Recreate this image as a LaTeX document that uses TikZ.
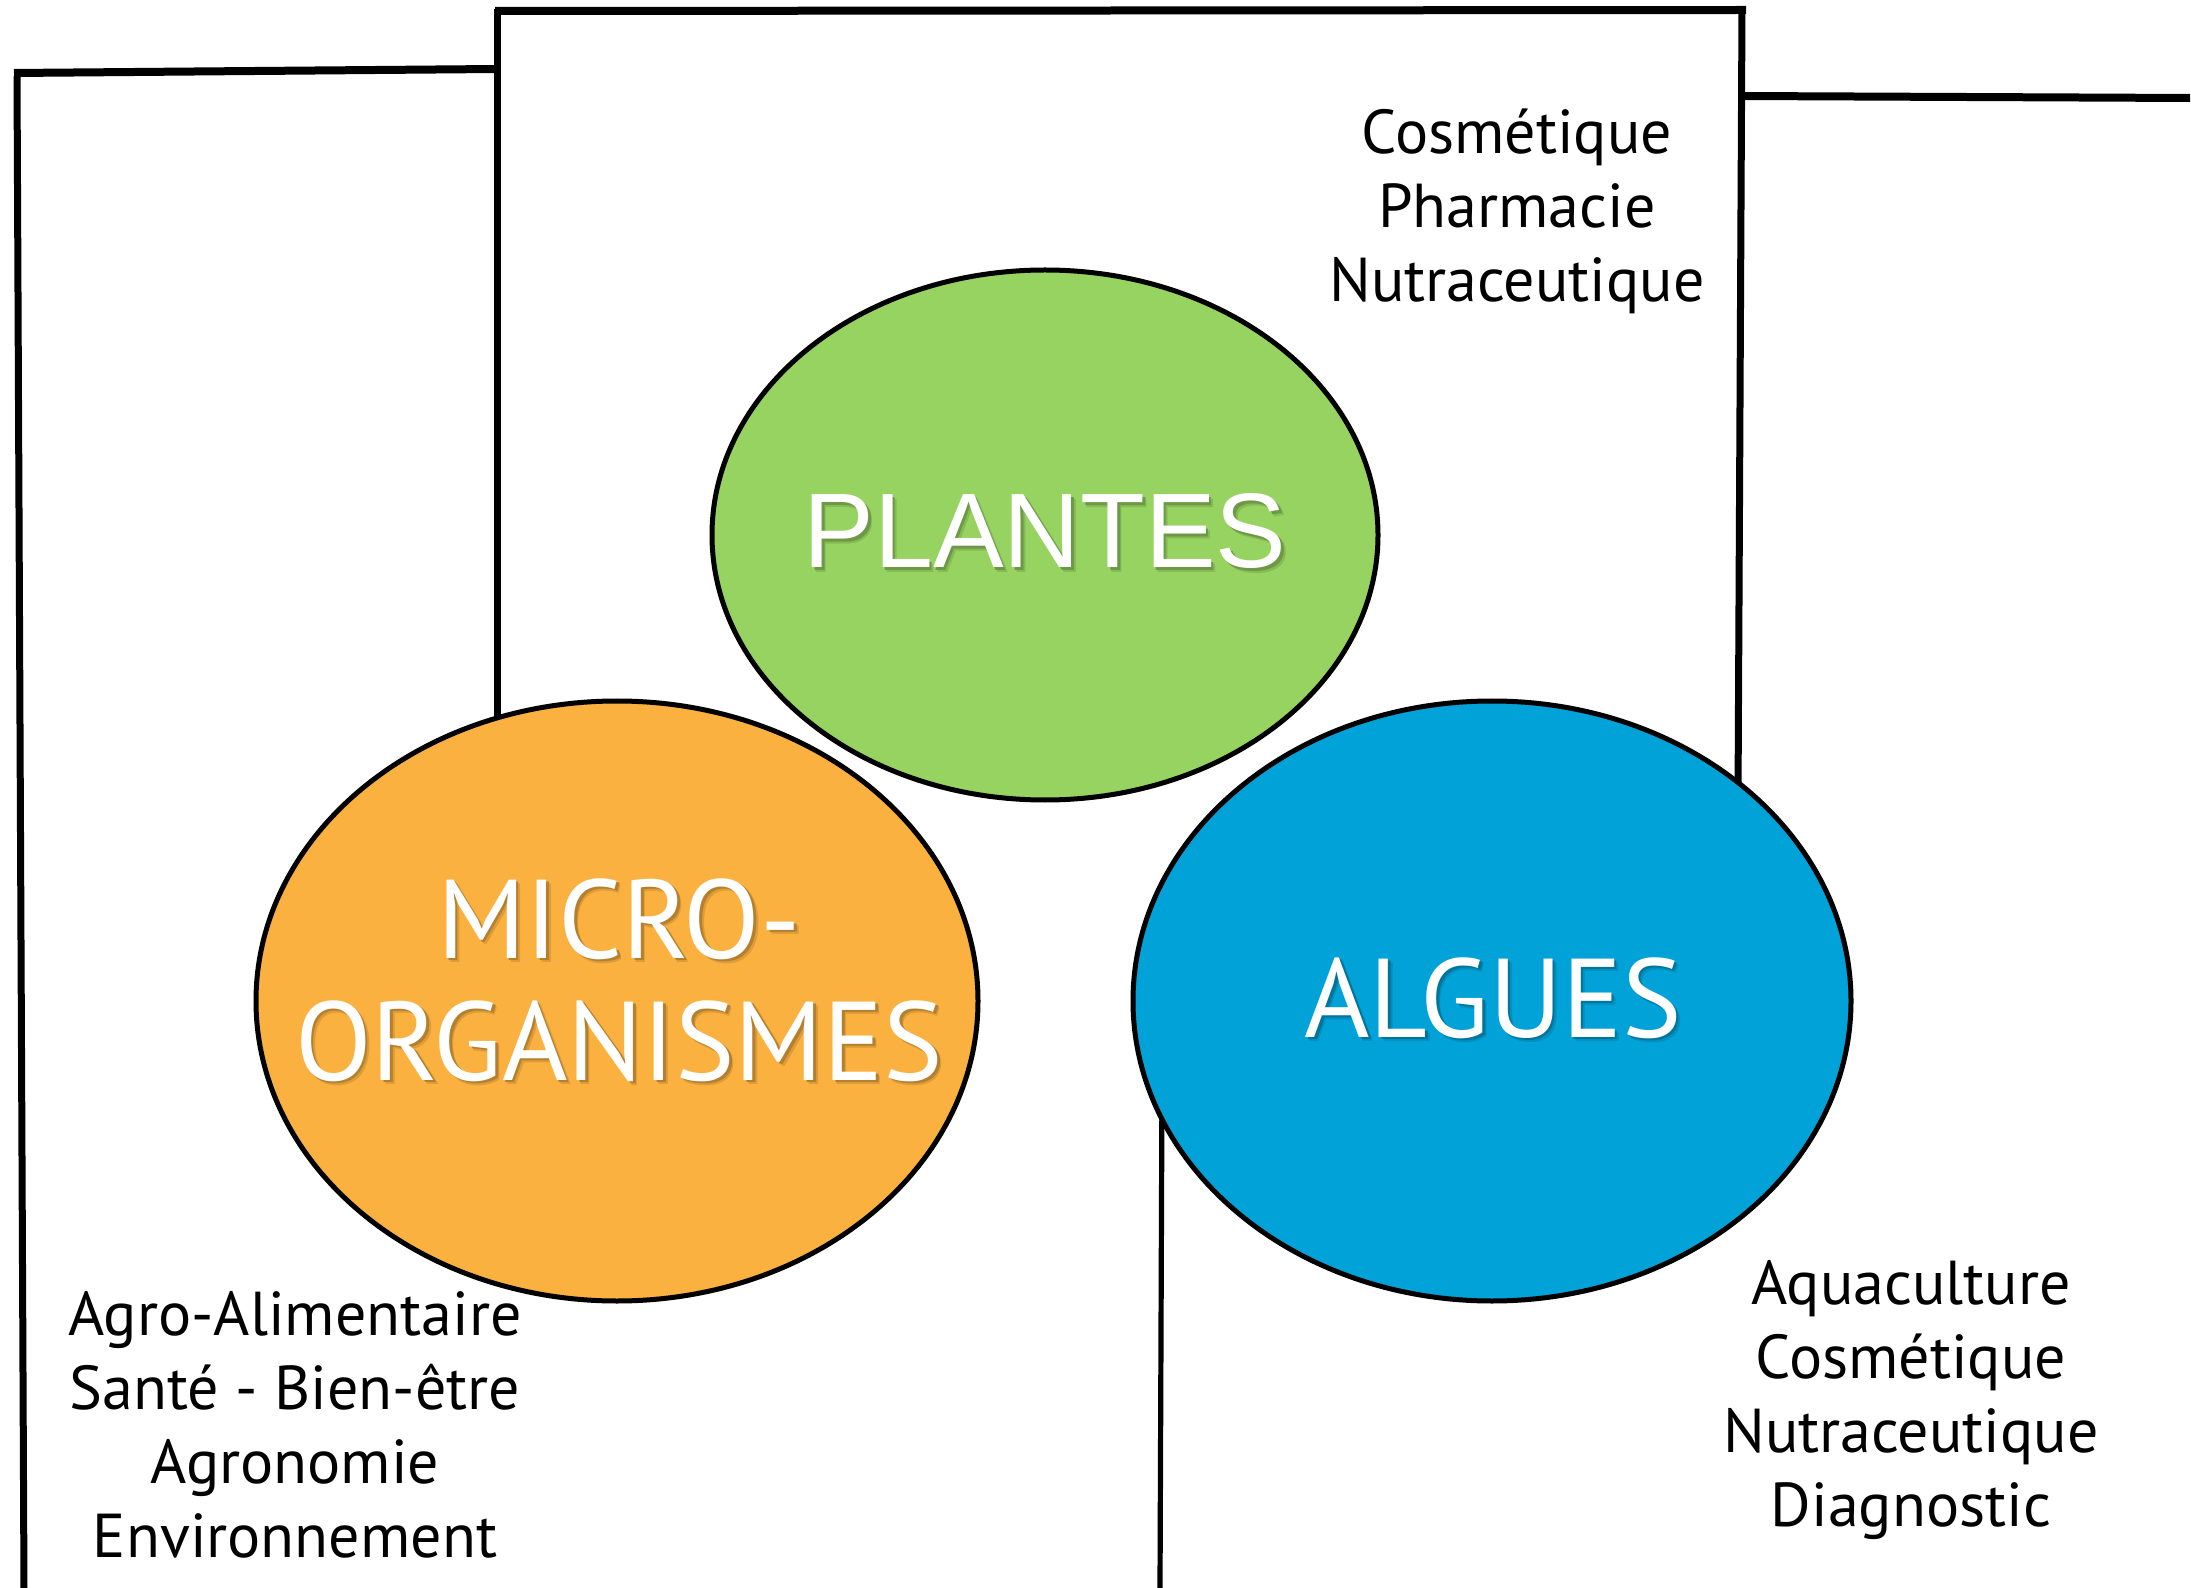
\documentclass[tikz,border=0pt]{standalone}
\usepackage{fontspec}
\setmainfont{PT Sans}
\newfontfamily\helvfont{Liberation Sans}
\newfontfamily\gillfont{PT Sans}
\usetikzlibrary{shapes.geometric}
\definecolor{plantgreen}{RGB}{151,211,96}
\definecolor{microorange}{RGB}{251,177,64}
\definecolor{algueblue}{RGB}{0,162,216}
% text with a soft drop shadow: #1 text, #2 background colour
\newcommand\shtxt[2]{\rlap{\color{#2!88!black}\kern2.2pt\raisebox{-2.2pt}{#1}}\rlap{\color{#2!72!black}\kern1.4pt\raisebox{-1.4pt}{#1}}#1}
\begin{document}
\begin{tikzpicture}[x=0.5pt,y=-0.5pt,
  hline/.style={line width=4pt,black},
  vline/.style={line width=3.5pt,black},
  thinvline/.style={line width=2.6pt,black},
  blob/.style={ellipse,draw=black,line width=2.5pt,inner sep=0pt},
  sidetext/.style={align=center,inner sep=0pt,text=black,font=\gillfont\fontsize{31}{37}\selectfont},
  bigtext/.style={align=center,inner sep=0pt,text=white},
  plantesfont/.style={font=\helvfont\fontsize{53}{53}\selectfont},
  blobfont/.style={font=\gillfont\fontsize{56}{61}\selectfont}
]
\useasboundingbox (0,0) rectangle (2191,1588);
\fill[white] (0,0) rectangle (2191,1588);
% frame lines
\draw[hline] (14,73) -- (497,69);
\draw[vline] (17,76) -- (24,1588);
\draw[hline] (495,11) -- (1746,10);
\draw[vline] (497,9) -- (497,760);
\draw[vline] (1742,8) -- (1738,800);
\draw[hline] (1740,96) -- (2190,98);
\draw[thinvline] (1162,1080) -- (1160,1588);
% ellipses
\node[blob,fill=plantgreen,minimum width=333pt,minimum height=265pt] (plantes) at (1045,535) {};
\node[blob,fill=microorange,minimum width=361pt,minimum height=300pt] (micro) at (617,1001) {};
\node[blob,fill=algueblue,minimum width=359pt,minimum height=300pt] (algues) at (1492,1001) {};
% labels
\node[bigtext,anchor=base,plantesfont] (plantesLabel) at (1045,568) {\shtxt{PLANTES}{plantgreen}};
\node[bigtext,anchor=base,blobfont] (microLabel) at (619,1080) {\shtxt{MICRO-}{microorange}\\\shtxt{ORGANISMES}{microorange}};
\node[bigtext,anchor=base,blobfont] (alguesLabel) at (1493,1037) {\shtxt{ALGUES}{algueblue}};
% side texts (anchor base = baseline of last line)
\node[sidetext,anchor=base] (plantesUses) at (1517,302) {Cosmétique\\Pharmacie\\Nutraceutique};
\node[sidetext,anchor=base] (microUses) at (295,1557) {Agro-Alimentaire\\Santé - Bien-être\\Agronomie\\Environnement};
\node[sidetext,anchor=base] (alguesUses) at (1911,1526) {Aquaculture\\Cosmétique\\Nutraceutique\\Diagnostic};
\end{tikzpicture}
\end{document}
